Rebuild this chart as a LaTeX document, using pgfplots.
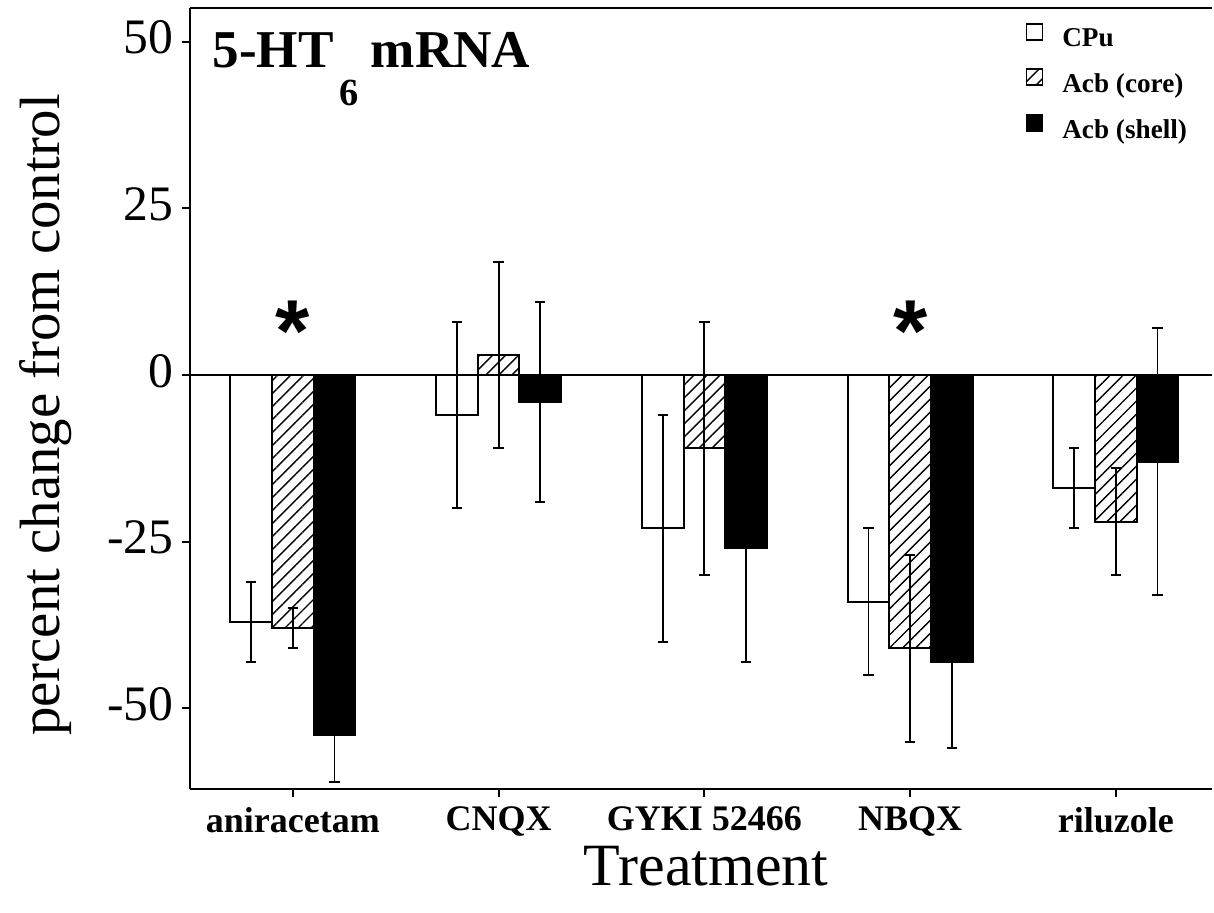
\documentclass[border=0pt]{standalone}
\usepackage{fontspec}
\setmainfont{Liberation Serif}
\newfontfamily\sansfont{Liberation Sans}
\usepackage{pgfplots}
\pgfplotsset{compat=1.18}
\usetikzlibrary{patterns.meta}

\begin{document}
\begin{tikzpicture}
\begin{axis}[
  at={(0,0)}, anchor=south west,
  scale only axis, width=255.5pt, height=195.25pt,
  xmin=-0.5, xmax=4.467, ymin=-62.1, ymax=55.05,
  ybar=0pt, bar width=10.4pt,
  axis x line*=box, axis y line*=left,
  axis line style={line width=0.6pt, black},
  xtick={0,1,2,3,4},
  xticklabels={aniracetam,CNQX,GYKI 52466,NBQX,riluzole},
  xtick pos=bottom,
  ytick={-50,-25,0,25,50},
  tick align=outside, major tick length=2pt,
  tick style={line width=0.5pt, black},
  xticklabel style={font=\fontsize{9}{10}\selectfont\bfseries, yshift=1pt},
  yticklabel style={font=\fontsize{12.4}{13}\selectfont, inner xsep=0pt, xshift=-2pt, yshift=1pt},
  /pgf/number format/assume math mode=true,
  ylabel={percent change from control},
  ylabel style={font=\fontsize{14.2}{15}\selectfont, at={(axis description cs:-0.141,0.479)}, anchor=center},
  xlabel={Treatment},
  xlabel style={font=\fontsize{15}{15}\selectfont, at={(axis description cs:0.505,-0.123)}, anchor=base},
  legend style={draw=none, fill=none, at={(axis description cs:0.817,0.985)}, anchor=north west,
    font=\fontsize{6.8}{7}\selectfont\bfseries, row sep=1.25pt, inner sep=0pt},
  legend cell align=left,
  legend image code/.code={\draw[#1,line width=0.4pt] (0pt,0.2pt) rectangle (4pt,4.2pt);},
  error bars/y dir=both, error bars/y explicit,
  error bars/error bar style={line width=0.45pt, black},
  error bars/error mark options={line width=0.45pt, black, mark size=1.3pt, rotate=90},
]
% CPu
\addplot[draw=black, fill=white, line width=0.5pt] coordinates {
  (0,-37) +- (0,6)
  (1,-6) +- (0,14)
  (2,-23) +- (0,17)
  (3,-34) +- (0,11)
  (4,-17) +- (0,6)
};
% Acb (core)
\addplot[draw=black, line width=0.5pt, pattern={Lines[angle=45,distance=2.3pt,line width=0.35pt]}, pattern color=black] coordinates {
  (0,-38) +- (0,3)
  (1,3) +- (0,14)
  (2,-11) +- (0,19)
  (3,-41) +- (0,14)
  (4,-22) +- (0,8)
};
% Acb (shell)
\addplot[draw=black, fill=black, line width=0.5pt] coordinates {
  (0,-54) +- (0,7)
  (1,-4) +- (0,15)
  (2,-26) +- (0,17)
  (3,-43) +- (0,13)
  (4,-13) +- (0,20)
};
\legend{\hspace*{2.75pt}CPu, \hspace*{2.75pt}Acb (core), \hspace*{2.75pt}Acb (shell)}
\addplot[sharp plot, forget plot, black, line width=0.5pt, no markers] coordinates {(-0.5,0) (4.467,0)};
\node[anchor=base west, inner sep=0pt, font=\fontsize{13.3}{14}\selectfont\bfseries]
  at (axis description cs:0.0212,0.9232) {5-HT\kern1.5pt\raisebox{-9.5pt}{\fontsize{9.6}{10}\selectfont 6}\kern3pt mRNA};
\node[font=\sansfont\fontsize{22}{22}\selectfont\bfseries] at (axis cs:0,6.5) {*};
\node[font=\sansfont\fontsize{22}{22}\selectfont\bfseries] at (axis cs:3,6.5) {*};
\end{axis}
\pgfresetboundingbox
\path (-47.5pt,-31pt) rectangle (256pt,197.25pt);
\end{tikzpicture}
\end{document}
